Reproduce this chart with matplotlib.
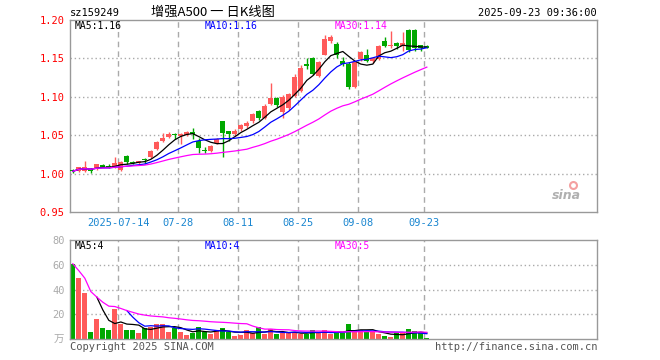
import matplotlib
matplotlib.use("Agg")
import matplotlib.pyplot as plt
import numpy as np
import pandas as pd

# trading days shown (2025-07-02 .. 2025-09-23)
dates = pd.bdate_range("2025-07-02", "2025-09-23")

opens = [1.005, 1.003, 1.004, 1.006, 1.006, 1.011, 1.010, 1.008, 1.005, 1.023,
         1.015, 1.014, 1.019, 1.021, 1.032, 1.042, 1.048, 1.052, 1.049, 1.050,
         1.054, 1.042, 1.031, 1.030, 1.040, 1.068, 1.055, 1.051, 1.058, 1.062,
         1.068, 1.081, 1.072, 1.090, 1.098, 1.080, 1.085, 1.101, 1.108, 1.143,
         1.151, 1.127, 1.155, 1.173, 1.169, 1.147, 1.143, 1.113, 1.149, 1.155,
         1.146, 1.149, 1.173, 1.166, 1.170, 1.166, 1.187, 1.187, 1.167, 1.166]
highs = [1.006, 1.009, 1.017, 1.007, 1.013, 1.012, 1.013, 1.021, 1.017, 1.024,
         1.016, 1.017, 1.020, 1.031, 1.043, 1.053, 1.054, 1.053, 1.053, 1.055,
         1.059, 1.046, 1.034, 1.037, 1.047, 1.069, 1.056, 1.058, 1.065, 1.068,
         1.079, 1.083, 1.090, 1.118, 1.100, 1.102, 1.105, 1.130, 1.142, 1.150,
         1.152, 1.146, 1.180, 1.180, 1.172, 1.152, 1.145, 1.146, 1.160, 1.162,
         1.152, 1.168, 1.178, 1.186, 1.172, 1.184, 1.188, 1.188, 1.168, 1.167]
lows = [1.001, 1.002, 1.002, 1.001, 1.005, 1.008, 1.007, 1.007, 1.003, 1.013,
        1.013, 1.013, 1.012, 1.020, 1.031, 1.041, 1.047, 1.045, 1.039, 1.049,
        1.045, 1.027, 1.027, 1.028, 1.038, 1.022, 1.043, 1.049, 1.056, 1.060,
        1.066, 1.070, 1.071, 1.089, 1.087, 1.072, 1.083, 1.100, 1.106, 1.136,
        1.128, 1.126, 1.154, 1.170, 1.150, 1.140, 1.110, 1.112, 1.146, 1.145,
        1.144, 1.148, 1.165, 1.164, 1.162, 1.160, 1.158, 1.160, 1.160, 1.163]
closes = [1.003, 1.008, 1.008, 1.004, 1.012, 1.009, 1.008, 1.014, 1.015, 1.015,
          1.014, 1.016, 1.018, 1.030, 1.041, 1.047, 1.052, 1.050, 1.052, 1.054,
          1.052, 1.033, 1.029, 1.036, 1.045, 1.053, 1.051, 1.055, 1.063, 1.066,
          1.077, 1.073, 1.088, 1.098, 1.089, 1.100, 1.103, 1.126, 1.138, 1.140,
          1.130, 1.145, 1.175, 1.178, 1.154, 1.143, 1.113, 1.145, 1.158, 1.147,
          1.150, 1.166, 1.166, 1.168, 1.166, 1.170, 1.161, 1.164, 1.164, 1.164]
# volume in 万
volumes = [60.8, 49.6, 37.0, 5.9, 16.0, 9.0, 7.5, 24.0, 12.3, 7.5,
           7.5, 4.8, 9.0, 9.9, 12.5, 12.5, 5.9, 9.0, 5.9, 3.2,
           5.0, 10.0, 6.0, 4.0, 7.0, 8.5, 5.9, 2.4, 3.2, 7.2,
           4.5, 9.3, 4.0, 7.7, 4.0, 5.0, 5.0, 5.6, 4.0, 4.0,
           7.2, 5.6, 7.2, 4.0, 5.6, 5.0, 12.0, 7.2, 7.2, 5.6,
           5.6, 4.0, 2.4, 1.9, 4.5, 4.5, 8.0, 6.4, 4.5, 0.8]

tick_dates = ["2025-07-14", "2025-07-28", "2025-08-11", "2025-08-25", "2025-09-08", "2025-09-23"]
tick_labels = ["2025-07-14", "07-28", "08-11", "08-25", "09-08", "09-23"]
price_ticks = [0.95, 1.00, 1.05, 1.10, 1.15, 1.20]
vol_ticks = [0, 20, 40, 60, 80]

RED = "#ff5a5a"
GREEN = "#00a800"
GRID = "#aaaaaa"
SPINE = "#999999"
MONO = ["DejaVu Sans Mono", "Noto Sans CJK SC"]

x = np.arange(len(dates))
o = np.array(opens)
c = np.array(closes)
up = c >= o
colors = np.where(up, RED, GREEN)

close_s = pd.Series(closes)
vol_s = pd.Series(volumes)
ma_price = {n: close_s.rolling(n, min_periods=1).mean() for n in (5, 10, 30)}
ma_vol = {5: vol_s.rolling(5).mean(), 10: vol_s.rolling(10).mean(),
          30: vol_s.rolling(30, min_periods=1).mean()}
ma_colors = {5: "black", 10: "#0000ff", 30: "#ff00ff"}

fig = plt.figure(figsize=(6.6, 3.6), dpi=100)
ax = fig.add_axes([70 / 660, 1 - 212 / 360, 527 / 660, 192 / 360])
axv = fig.add_axes([70 / 660, 1 - 339 / 360, 527 / 660, 99 / 360])

xlim = (-0.47, -0.47 + 527 / 6)
tick_pos = [list(dates.strftime("%Y-%m-%d")).index(d) - 0.42 for d in tick_dates]

for a in (ax, axv):
    a.set_xlim(*xlim)
    for sp in a.spines.values():
        sp.set_color(SPINE)
        sp.set_linewidth(1)
    a.set_xticks([])
    for tp in tick_pos:
        a.axvline(tp, color=GRID, linestyle=(0, (4, 3)), linewidth=1, zorder=0)

# price panel
ax.set_ylim(0.95, 1.20)
for v in price_ticks[1:-1]:
    ax.axhline(v, color=GRID, linestyle=(0, (1, 2)), linewidth=1, zorder=0)
ax.vlines(x, lows, highs, colors=colors, linewidth=1, zorder=2)
body = np.maximum(np.abs(c - o), 0.0008)
ax.bar(x, body, bottom=np.minimum(o, c), width=0.78, color=colors, zorder=3)
for n in (5, 10, 30):
    ax.plot(x, ma_price[n], color=ma_colors[n], linewidth=0.9, zorder=4)
ax.set_yticks(price_ticks)
ax.set_yticklabels([f"{v:.2f}" for v in price_ticks], family=MONO, fontsize=7.5, color="#ff0000")
ax.tick_params(axis="y", length=0, pad=4)
for tp, lab in zip(tick_pos, tick_labels):
    ax.text(tp, 0.942, lab, ha="center", va="top", fontsize=7.5, family=MONO,
            color="#1a86d0")

ax.text(5 / 527, 0.995, "MA5:1.16", transform=ax.transAxes, ha="left", va="top",
        fontsize=7, family=MONO, color="black")
ax.text(135 / 527, 0.995, "MA10:1.16", transform=ax.transAxes, ha="left", va="top",
        fontsize=7, family=MONO, color="#0000ff")
ax.text(265 / 527, 0.995, "MA30:1.14", transform=ax.transAxes, ha="left", va="top",
        fontsize=7, family=MONO, color="#ff00ff")
ax.text(0.97, 0.05, "sina", transform=ax.transAxes, ha="right", va="bottom",
        fontsize=9, style="italic", fontweight="bold", color="#b0b0b0")
ax.plot([0.955], [0.14], marker="o", markersize=5, markerfacecolor="none",
        markeredgecolor="#f4a0a0", markeredgewidth=1.5, transform=ax.transAxes)

# volume panel
axv.set_ylim(0, 80)
for v in vol_ticks[1:-1]:
    axv.axhline(v, color=GRID, linestyle=(0, (1, 2)), linewidth=1, zorder=0)
axv.bar(x, volumes, width=0.78, color=colors, zorder=2)
for n in (5, 10, 30):
    axv.plot(x, ma_vol[n], color=ma_colors[n], linewidth=0.9, zorder=3)
axv.set_yticks(vol_ticks)
axv.set_yticklabels(["万"] + [str(v) for v in vol_ticks[1:]], family=MONO,
                    fontsize=7.5, color="#aaaaaa")
axv.tick_params(axis="y", length=0, pad=4)
axv.text(5 / 527, 0.985, "MA5:4", transform=axv.transAxes, ha="left", va="top",
         fontsize=7, family=MONO, color="black")
axv.text(135 / 527, 0.985, "MA10:4", transform=axv.transAxes, ha="left", va="top",
         fontsize=7, family=MONO, color="#0000ff")
axv.text(265 / 527, 0.985, "MA30:5", transform=axv.transAxes, ha="left", va="top",
         fontsize=7, family=MONO, color="#ff00ff")

# header and footer
fig.text(70 / 660, 1 - 13 / 360, "sz159249", ha="left", va="center", fontsize=7.5,
         family=MONO, color="black")
fig.text(213 / 660, 1 - 12 / 360, "增强A500 一 日K线图", ha="center", va="center",
         fontsize=9.5, family=["Noto Sans CJK SC", "DejaVu Sans"], color="black")
fig.text(597 / 660, 1 - 13 / 360, "2025-09-23 09:36:00", ha="right", va="center",
         fontsize=7.5, family=MONO, color="black")
fig.text(70 / 660, 1 - 347 / 360, "Copyright 2025 SINA.COM", ha="left", va="center",
         fontsize=7.5, family=MONO, color="#555555")
fig.text(597 / 660, 1 - 347 / 360, "http://finance.sina.com.cn", ha="right", va="center",
         fontsize=7.5, family=MONO, color="#555555")

fig.savefig("out.png", dpi=100, facecolor="white")
plt.close(fig)
